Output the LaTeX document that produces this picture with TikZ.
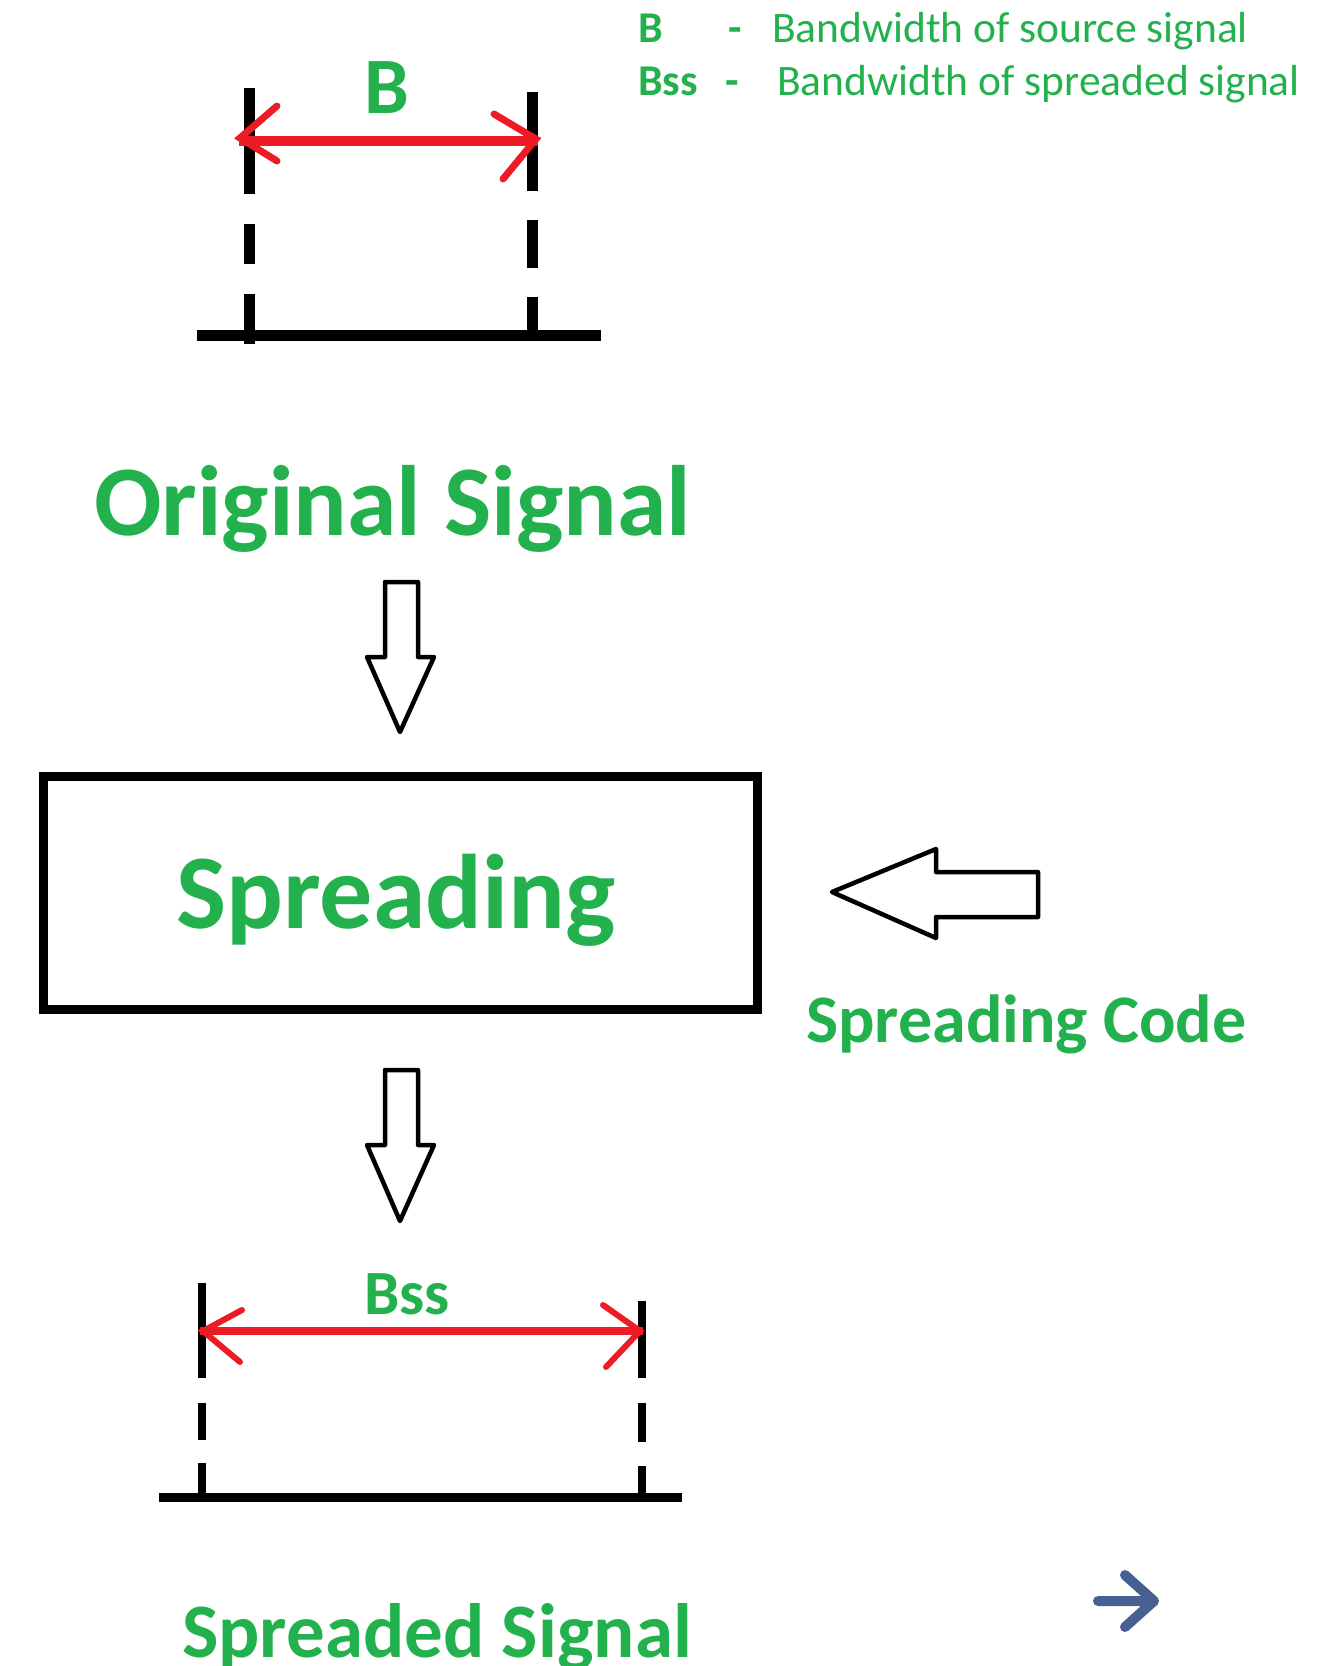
\documentclass[tikz,border=0pt]{standalone}
\usepackage{fontspec}
\setmainfont{Carlito}
\definecolor{sigGreen}{RGB}{34,177,76}
\definecolor{sigRed}{RGB}{237,28,36}
\definecolor{navBlue}{RGB}{70,96,145}
\tikzset{
  bandmark/.style={line width=#1, line cap=butt},
  dimline/.style={sigRed, line width=#1, line cap=butt},
  barb/.style={sigRed, line width=#1, line cap=round, line join=miter},
  blockarrow/.style={draw=black, line width=4.5pt, line join=round},
  gtext/.style={text=sigGreen, inner sep=0pt, anchor=base west},
}
\begin{document}
\begin{tikzpicture}[x=1pt,y=-1pt]
\useasboundingbox (0,0) rectangle (1334,1666);
\clip (0,0) rectangle (1334,1666);

% ---- legend ----
\node[gtext, font=\fontsize{44}{53}\selectfont\bfseries] (lgB) at (638,42) {B};
\node[gtext, font=\fontsize{44}{53}\selectfont\bfseries] (lgD1) at (728,42) {-};
\node[gtext, font=\fontsize{43.5}{52}\selectfont] (lgT1) at (772,42) {Bandwidth of source signal};
\node[gtext, font=\fontsize{44}{53}\selectfont\bfseries] (lgBss) at (638,95) {Bss};
\node[gtext, font=\fontsize{44}{53}\selectfont\bfseries] (lgD2) at (725,95) {-};
\node[gtext, font=\fontsize{43.5}{52}\selectfont] (lgT2) at (777,95) {Bandwidth of spreaded signal};

% ---- original signal band ----
\draw[bandmark=11pt] (197,335.5) -- (601,335.5);
\draw[bandmark=11pt] (249.5,88) -- (249.5,194)
                     (249.5,224) -- (249.5,264)
                     (249.5,294) -- (249.5,344);
\draw[bandmark=11pt] (532.5,92) -- (532.5,191)
                     (532.5,220) -- (532.5,268)
                     (532.5,297) -- (532.5,335);
\coordinate (bL) at (239,141);
\coordinate (bR) at (538,141);
\draw[dimline=10pt] (bL) -- (bR);
\draw[barb=7pt] (277,106) -- (240,138) -- (277,161);
\draw[barb=7pt] (494,114) -- (536,139) -- (503,179);
\node[gtext, font=\fontsize{80}{96}\selectfont\bfseries] (labB) at (364,113) {B};

\node[gtext, font=\fontsize{100}{120}\selectfont\bfseries] (orig) at (94,535) {Original Signal};

% ---- first down arrow ----
\draw[blockarrow] (385,582) -- (418,582) -- (418,657) -- (434,657)
   -- (400,732) -- (367,657) -- (385,657) -- cycle;

% ---- spreading block ----
\draw[line width=9pt] (43.5,776.5) rectangle (757,1009.5);
\node[gtext, font=\fontsize{106}{127}\selectfont\bfseries] (spread) at (176,928) {Spreading};

% ---- spreading code input ----
\draw[blockarrow] (832,892) -- (936,849) -- (936,872) -- (1038,872)
   -- (1038,917) -- (936,917) -- (936,938) -- cycle;
\node[gtext, font=\fontsize{68}{82}\selectfont\bfseries] (code) at (806,1042) {Spreading Code};

% ---- second down arrow ----
\draw[blockarrow] (385,1070) -- (418,1070) -- (418,1145) -- (434,1145)
   -- (400,1221) -- (367,1145) -- (385,1145) -- cycle;

% ---- spreaded signal band ----
\draw[bandmark=9pt] (159,1497) -- (682,1497);
\draw[bandmark=8pt] (202,1283) -- (202,1378)
                    (202,1403) -- (202,1440)
                    (202,1463) -- (202,1497);
\draw[bandmark=8pt] (642,1301) -- (642,1378)
                    (642,1403) -- (642,1442)
                    (642,1466) -- (642,1497);
\coordinate (sL) at (200,1331);
\coordinate (sR) at (643,1331);
\draw[dimline=8pt] (sL) -- (sR);
\draw[barb=6pt] (242,1310) -- (203,1331) -- (240,1362);
\draw[barb=6pt] (603,1305) -- (640,1331) -- (606,1367);
\node[gtext, font=\fontsize{63}{76}\selectfont\bfseries] (labBss) at (364,1314) {Bss};

\node[gtext, font=\fontsize{77}{92}\selectfont\bfseries] (spreaded) at (182,1657) {Spreaded Signal};

% ---- navigation arrow ----
\coordinate (nA) at (1098,1601);
\coordinate (nB) at (1154,1601);
\draw[navBlue, line width=10pt, line cap=round, line join=round]
  (nA) -- (nB) (1125,1575) -- (nB) -- (1125,1627);
\end{tikzpicture}
\end{document}
